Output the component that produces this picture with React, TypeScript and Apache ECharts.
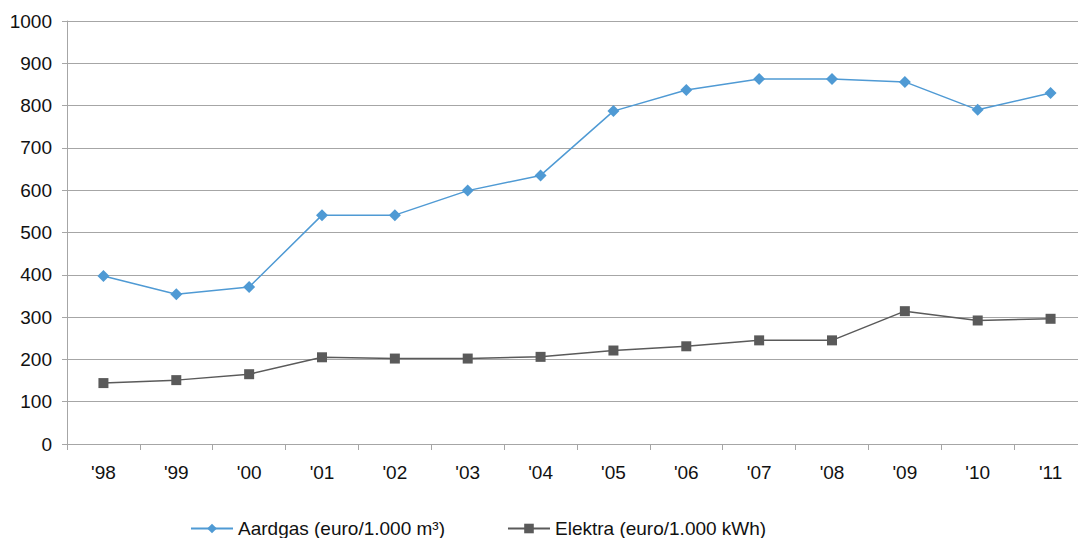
import React, { useEffect, useRef } from "react";
import * as echarts from "echarts";

const categories = ["'98", "'99", "'00", "'01", "'02", "'03", "'04", "'05", "'06", "'07", "'08", "'09", "'10", "'11"];
const aardgas = [397, 354, 371, 541, 541, 599, 635, 787, 837, 863, 863, 856, 790, 830];
const elektra = [144, 151, 165, 205, 202, 202, 206, 221, 231, 245, 245, 314, 292, 296];
const yTicks = { min: 0, max: 1000, interval: 100 };

export default function App() {
  const ref = useRef<HTMLDivElement>(null);
  useEffect(() => {
    if (!ref.current) return;
    const chart = echarts.init(ref.current, null, { renderer: "svg" });
    const font = "'Liberation Sans', Arial, sans-serif";
    chart.setOption({
      animation: false,
      textStyle: { fontFamily: font },
      grid: { left: 67, right: 0, top: 21, bottom: 94, containLabel: false },
      legend: {
        left: 185,
        top: 514,
        itemWidth: 42,
        itemHeight: 12,
        itemGap: 62,
        textStyle: { fontSize: 19, color: "#111", fontFamily: font },
        data: ["Aardgas (euro/1.000 m³)", "Elektra (euro/1.000 kWh)"],
      },
      xAxis: {
        type: "category",
        data: categories,
        boundaryGap: true,
        axisLine: { lineStyle: { color: "#a6a6a6", width: 1 } },
        axisTick: { show: true, length: 6, lineStyle: { color: "#a6a6a6" } },
        axisLabel: { fontSize: 19, color: "#111", margin: 19, fontFamily: font },
      },
      yAxis: {
        type: "value",
        min: yTicks.min,
        max: yTicks.max,
        interval: yTicks.interval,
        axisLine: { show: true, lineStyle: { color: "#a6a6a6", width: 1 } },
        axisTick: { show: true, length: 5, lineStyle: { color: "#a6a6a6" } },
        axisLabel: {
          fontSize: 19,
          color: "#111",
          margin: 15,
          fontFamily: font,
          formatter: (v: number) => String(v),
        },
        splitLine: { lineStyle: { color: "#a6a6a6", width: 1 } },
      },
      series: [
        {
          name: "Aardgas (euro/1.000 m³)",
          type: "line",
          data: aardgas,
          symbol: "diamond",
          symbolSize: 12,
          itemStyle: { color: "#4f9ad4" },
          lineStyle: { color: "#4f9ad4", width: 1.5 },
        },
        {
          name: "Elektra (euro/1.000 kWh)",
          type: "line",
          data: elektra,
          symbol: "rect",
          symbolSize: 10,
          itemStyle: { color: "#5a5a5a" },
          lineStyle: { color: "#5a5a5a", width: 1.5 },
        },
      ],
    });
    return () => chart.dispose();
  }, []);
  return (
    <div style={{ position: "fixed", left: 0, top: 0, width: 1078, height: 538, overflow: "hidden", background: "#fff" }}>
      <div ref={ref} style={{ width: 1087, height: 538 }} />
    </div>
  );
}
